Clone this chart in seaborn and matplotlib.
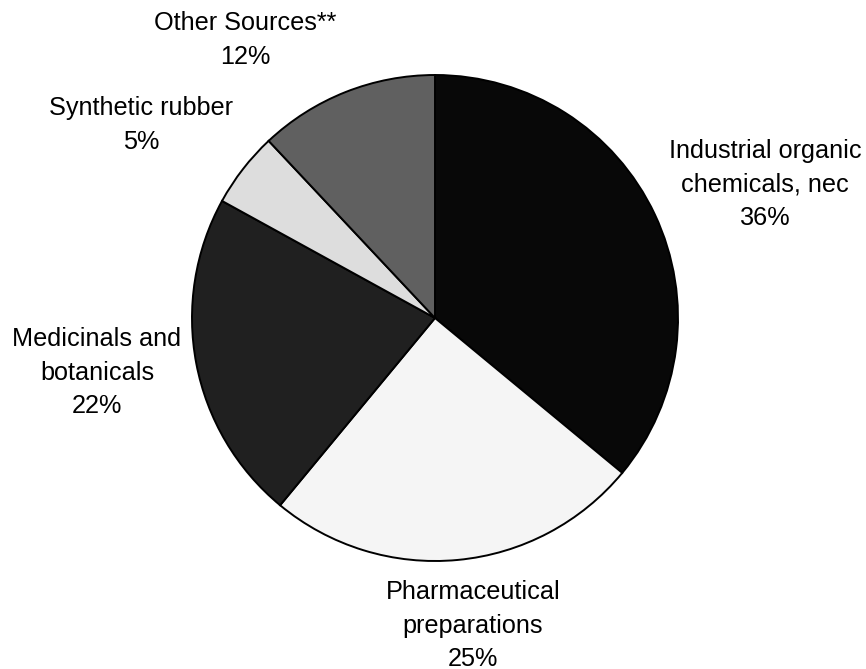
import matplotlib
matplotlib.use("Agg")
import matplotlib.pyplot as plt
import seaborn as sns

# shares of the total, clockwise from 12 o'clock
categories = ["Industrial organic\nchemicals, nec", "Pharmaceutical\npreparations",
              "Medicinals and\nbotanicals", "Synthetic rubber", "Other Sources**"]
shares = [36, 25, 22, 5, 12]
slice_colors = ["#080808", "#f5f5f5", "#202020", "#dddddd", "#606060"]

# label block centres, in pie-radius units from the pie centre
label_xy = [(1.358, 0.551), (0.156, -1.267), (-1.391, -0.226), (-1.210, 0.794), (-0.782, 1.144)]

sns.set_style("white")
plt.rcParams["font.family"] = ["Liberation Sans", "DejaVu Sans"]

fig = plt.figure(figsize=(8.66, 6.69), dpi=100)
ax = fig.add_axes([0, 0, 1, 1])

wedges, _ = ax.pie(shares, colors=slice_colors, startangle=90, counterclock=False,
                   radius=1.0, wedgeprops={"edgecolor": "black", "linewidth": 1.4})

for name, v, (lx, ly) in zip(categories, shares, label_xy):
    ax.text(lx, ly, f"{name}\n{v}%", ha="center", va="center", fontsize=18.2,
            linespacing=1.5, color="black")

# 1 unit = 243 px, pie centre at (435, 318) px
ax.set_xlim(-435 / 243, (866 - 435) / 243)
ax.set_ylim(-(669 - 318) / 243, 318 / 243)
ax.set_aspect("equal")
ax.axis("off")

fig.savefig("out.png", dpi=100, facecolor="white")
